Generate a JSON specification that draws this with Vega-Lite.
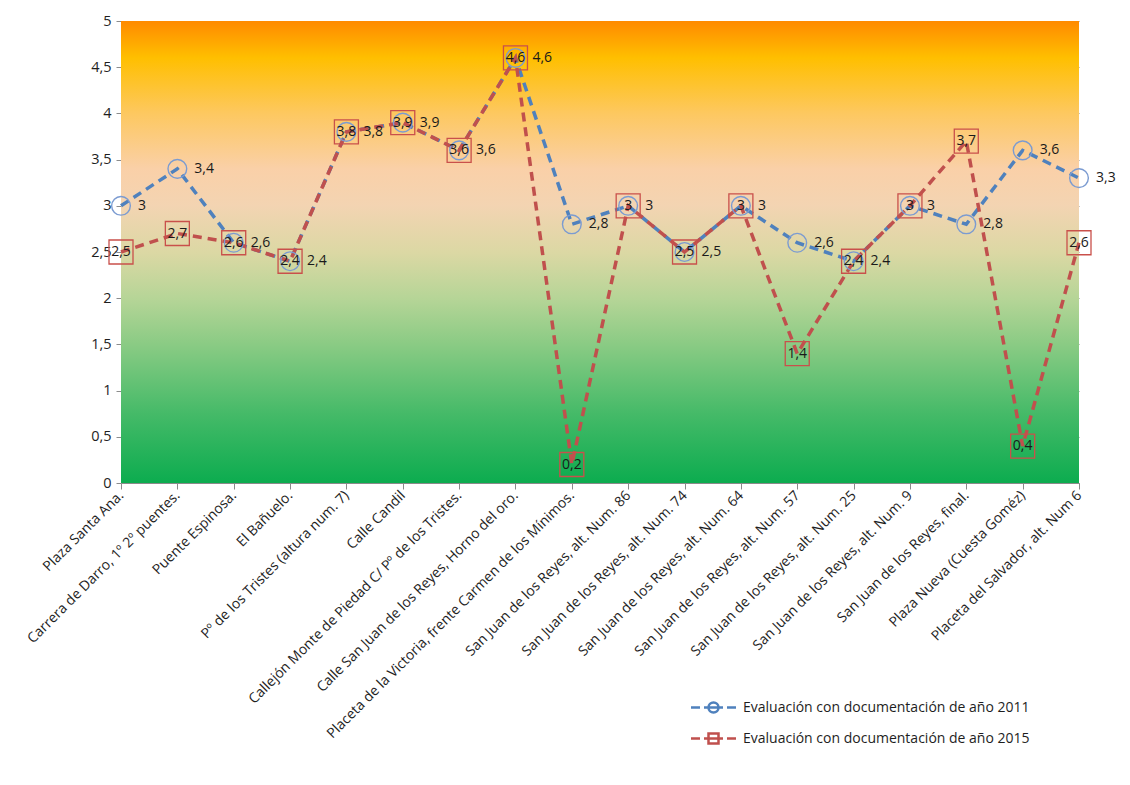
{
  "$schema": "https://vega.github.io/schema/vega-lite/v6.json",
  "width": 958,
  "height": 462,
  "autosize": {"type": "none"},
  "padding": {"left": 121, "top": 21, "right": 51, "bottom": 302},
  "background": "white",
  "config": {
    "locale": {"number": {"decimal": ",", "thousands": ".", "grouping": [3], "currency": ["", " €"]}},
    "view": {"stroke": null},
    "font": "Open Sans"
  },
  "datasets": {
    "evaluaciones": [
      {"lugar": "Plaza Santa Ana.", "serie": "Evaluación con documentación de año 2011", "valor": 3},
      {"lugar": "Carrera de Darro, 1º 2º puentes.", "serie": "Evaluación con documentación de año 2011", "valor": 3.4},
      {"lugar": "Puente Espinosa.", "serie": "Evaluación con documentación de año 2011", "valor": 2.6},
      {"lugar": "El Bañuelo.", "serie": "Evaluación con documentación de año 2011", "valor": 2.4},
      {"lugar": "Pº de los Tristes (altura num. 7)", "serie": "Evaluación con documentación de año 2011", "valor": 3.8},
      {"lugar": "Calle Candil", "serie": "Evaluación con documentación de año 2011", "valor": 3.9},
      {"lugar": "Callejón Monte de Piedad C/ Pº de los Tristes.", "serie": "Evaluación con documentación de año 2011", "valor": 3.6},
      {"lugar": "Calle San Juan de los Reyes, Horno del oro.", "serie": "Evaluación con documentación de año 2011", "valor": 4.6},
      {"lugar": "Placeta de la Victoria, frente Carmen de los Mínimos.", "serie": "Evaluación con documentación de año 2011", "valor": 2.8},
      {"lugar": "San Juan de los Reyes, alt. Num. 86", "serie": "Evaluación con documentación de año 2011", "valor": 3},
      {"lugar": "San Juan de los Reyes, alt. Num. 74", "serie": "Evaluación con documentación de año 2011", "valor": 2.5},
      {"lugar": "San Juan de los Reyes, alt. Num. 64", "serie": "Evaluación con documentación de año 2011", "valor": 3},
      {"lugar": "San Juan de los Reyes, alt. Num. 57", "serie": "Evaluación con documentación de año 2011", "valor": 2.6},
      {"lugar": "San Juan de los Reyes, alt. Num. 25", "serie": "Evaluación con documentación de año 2011", "valor": 2.4},
      {"lugar": "San Juan de los Reyes, alt. Num. 9", "serie": "Evaluación con documentación de año 2011", "valor": 3},
      {"lugar": "San Juan de los Reyes, final.", "serie": "Evaluación con documentación de año 2011", "valor": 2.8},
      {"lugar": "Plaza Nueva (Cuesta Goméz)", "serie": "Evaluación con documentación de año 2011", "valor": 3.6},
      {"lugar": "Placeta del Salvador, alt. Num 6", "serie": "Evaluación con documentación de año 2011", "valor": 3.3},
      {"lugar": "Plaza Santa Ana.", "serie": "Evaluación con documentación de año 2015", "valor": 2.5},
      {"lugar": "Carrera de Darro, 1º 2º puentes.", "serie": "Evaluación con documentación de año 2015", "valor": 2.7},
      {"lugar": "Puente Espinosa.", "serie": "Evaluación con documentación de año 2015", "valor": 2.6},
      {"lugar": "El Bañuelo.", "serie": "Evaluación con documentación de año 2015", "valor": 2.4},
      {"lugar": "Pº de los Tristes (altura num. 7)", "serie": "Evaluación con documentación de año 2015", "valor": 3.8},
      {"lugar": "Calle Candil", "serie": "Evaluación con documentación de año 2015", "valor": 3.9},
      {"lugar": "Callejón Monte de Piedad C/ Pº de los Tristes.", "serie": "Evaluación con documentación de año 2015", "valor": 3.6},
      {"lugar": "Calle San Juan de los Reyes, Horno del oro.", "serie": "Evaluación con documentación de año 2015", "valor": 4.6},
      {"lugar": "Placeta de la Victoria, frente Carmen de los Mínimos.", "serie": "Evaluación con documentación de año 2015", "valor": 0.2},
      {"lugar": "San Juan de los Reyes, alt. Num. 86", "serie": "Evaluación con documentación de año 2015", "valor": 3},
      {"lugar": "San Juan de los Reyes, alt. Num. 74", "serie": "Evaluación con documentación de año 2015", "valor": 2.5},
      {"lugar": "San Juan de los Reyes, alt. Num. 64", "serie": "Evaluación con documentación de año 2015", "valor": 3},
      {"lugar": "San Juan de los Reyes, alt. Num. 57", "serie": "Evaluación con documentación de año 2015", "valor": 1.4},
      {"lugar": "San Juan de los Reyes, alt. Num. 25", "serie": "Evaluación con documentación de año 2015", "valor": 2.4},
      {"lugar": "San Juan de los Reyes, alt. Num. 9", "serie": "Evaluación con documentación de año 2015", "valor": 3},
      {"lugar": "San Juan de los Reyes, final.", "serie": "Evaluación con documentación de año 2015", "valor": 3.7},
      {"lugar": "Plaza Nueva (Cuesta Goméz)", "serie": "Evaluación con documentación de año 2015", "valor": 0.4},
      {"lugar": "Placeta del Salvador, alt. Num 6", "serie": "Evaluación con documentación de año 2015", "valor": 2.6}
    ]
  },
  "data": {"name": "evaluaciones"},
  "encoding": {
    "x": {
      "field": "lugar", "type": "nominal", "sort": null,
      "scale": {"type": "point", "padding": 0},
      "axis": {
        "title": null, "labelAngle": -45, "labelAlign": "right", "labelBaseline": "middle",
        "labelFontSize": 14, "labelColor": "#1e1e1e", "labelPadding": 4, "labelLimit": 500,
        "tickColor": "#8a8a8a", "tickSize": 6, "domainColor": "#8a8a8a", "domain": true
      }
    },
    "y": {
      "field": "valor", "type": "quantitative",
      "scale": {"domain": [0, 5], "nice": false, "zero": true},
      "axis": {
        "title": null, "values": [0, 0.5, 1, 1.5, 2, 2.5, 3, 3.5, 4, 4.5, 5], "format": ".1~f",
        "labelFontSize": 14.5, "labelColor": "#1e1e1e", "labelPadding": 5,
        "grid": true, "gridColor": "#8c8c8c", "gridWidth": 1, "gridOpacity": 1,
        "domain": false, "tickColor": "#8c8c8c", "tickSize": 5
      }
    }
  },
  "layer": [
    {
      "data": {"values": [{"desde": 0, "hasta": 5}]},
      "mark": {
        "type": "rect",
        "fill": {
          "gradient": "linear", "x1": 0, "y1": 0, "x2": 0, "y2": 1,
          "stops": [
            {"offset": 0, "color": "#ff8a00"},
            {"offset": 0.08, "color": "#ffbf00"},
            {"offset": 0.2, "color": "#fdc860"},
            {"offset": 0.32, "color": "#fad0a8"},
            {"offset": 0.4, "color": "#f3d4b2"},
            {"offset": 0.5, "color": "#dcd8a4"},
            {"offset": 0.6, "color": "#b6d597"},
            {"offset": 0.7, "color": "#8acb84"},
            {"offset": 0.85, "color": "#45ba68"},
            {"offset": 1, "color": "#0cac4f"}
          ]
        }
      },
      "encoding": {
        "x": null,
        "y": {"field": "desde", "type": "quantitative"},
        "y2": {"field": "hasta"}
      }
    },
    {
      "mark": {"type": "line", "strokeDash": [9, 6], "strokeWidth": 3.5, "strokeCap": "butt"},
      "encoding": {
        "color": {
          "field": "serie", "type": "nominal",
          "scale": {"domain": ["Evaluación con documentación de año 2011", "Evaluación con documentación de año 2015"], "range": ["#4f81bd", "#c0504d"]},
          "legend": {
            "title": null, "orient": "none", "legendX": 581, "legendY": 675,
            "labelFontSize": 14, "labelColor": "#1e1e1e", "labelOffset": 18, "labelLimit": 500,
            "symbolSize": 400, "rowPadding": 9, "symbolStrokeWidth": 2.5,
            "encode": {
              "symbols": {
                "update": {
                  "shape": {"signal": "datum.value == 'Evaluación con documentación de año 2011' ? 'M-2.25,0H-1.35M-0.95,0H0.95M1.35,0H2.25M-0.5,0A0.5,0.5,0,1,1,0.5,0A0.5,0.5,0,1,1,-0.5,0' : 'M-2.25,0H-1.35M-0.95,0H0.95M1.35,0H2.25M-0.5,-0.5H0.5V0.5H-0.5Z'"},
                  "strokeDash": {"value": []},
                  "fill": {"value": "transparent"}
                }
              }
            }
          }
        }
      }
    },
    {
      "transform": [{"filter": "datum.serie == 'Evaluación con documentación de año 2011'"}],
      "mark": {"type": "point", "shape": "circle", "size": 350, "filled": false, "stroke": "#7b9bd1", "strokeWidth": 1.4, "opacity": 1}
    },
    {
      "transform": [{"filter": "datum.serie == 'Evaluación con documentación de año 2015'"}],
      "mark": {"type": "point", "shape": "square", "size": 576, "filled": false, "stroke": "#c9504b", "strokeWidth": 1.3, "opacity": 1}
    },
    {
      "transform": [{"filter": "datum.serie == 'Evaluación con documentación de año 2011'"}],
      "mark": {"type": "text", "align": "left", "baseline": "middle", "dx": 17, "fontSize": 14, "color": "#1a1a1a"},
      "encoding": {"text": {"field": "valor", "type": "quantitative", "format": ".1~f"}}
    },
    {
      "transform": [{"filter": "datum.serie == 'Evaluación con documentación de año 2015'"}],
      "mark": {"type": "text", "align": "center", "baseline": "middle", "fontSize": 14, "color": "#1a1a1a"},
      "encoding": {"text": {"field": "valor", "type": "quantitative", "format": ".1~f"}}
    }
  ]
}
